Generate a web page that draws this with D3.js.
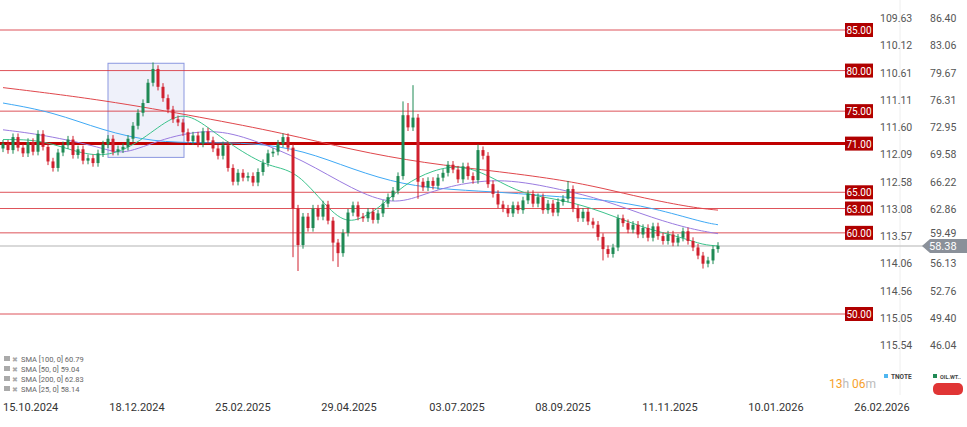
<!DOCTYPE html>
<html><head><meta charset="utf-8">
<script src="https://cdn.jsdelivr.net/npm/d3@7"></script>
<style>body{margin:0;background:#fff;font-family:Roboto,"Noto Sans",sans-serif}</style>
</head><body><div id="chart"></div>
<script>
// closes, one candle every slot (open = previous close)
const closes = [71.0,70.2,71.8,70.5,69.8,71.2,70.0,72.2,70.6,68.8,68.0,69.9,70.8,71.5,69.6,70.3,68.9,69.2,68.6,69.8,
70.9,71.6,70.0,70.3,70.6,71.6,73.2,74.8,76.0,78.5,80.2,78.0,76.6,75.2,74.0,73.6,72.4,71.3,72.0,71.0,
72.5,71.4,70.4,69.5,70.8,68.0,66.3,67.4,66.8,67.0,66.2,67.5,68.6,69.8,70.0,71.0,71.8,70.5,63.0,58.5,
62.0,60.6,63.0,62.0,63.5,61.5,58.8,57.5,60.0,62.5,63.4,62.0,61.8,62.6,61.6,62.4,63.6,64.4,65.2,67.0,
74.5,73.0,74.2,66.3,65.6,66.4,65.8,66.8,67.4,68.4,67.8,66.6,68.2,67.0,66.5,70.2,69.5,66.0,64.8,63.5,
63.0,62.4,63.4,62.8,64.0,64.8,63.6,64.4,62.8,63.6,62.5,63.8,64.2,65.4,63.0,61.8,62.6,61.4,61.0,59.5,
58.0,57.4,58.2,61.8,61.2,60.4,61.0,59.8,60.6,59.4,60.8,59.6,59.0,59.8,58.8,59.4,60.2,59.0,58.2,57.2,
56.2,56.6,58.0,58.4];
const firstOpen = 70.4;
// notable wicks [index, high, low]
const spikes = [[30,81.0,null],[29,null,76.5],[80,76.2,null],[81,76.0,null],[82,78.2,null],[59,null,55.3],
[58,null,57.0],[67,null,55.8],[66,null,56.5],[95,70.9,null],[120,null,56.6],[140,null,55.6],[113,66.4,null],[83,null,64.2]];
// SMA lines: [candle index, value]
const sma200 = [[0,77.9],[20,76.4],[40,74.2],[56,72.3],[70,70.2],[84,68.6],[100,67.5],[112,66.5],[120,65.5],[128,64.3],[138,63.1],[143,62.8]];
const sma100 = [[0,76.0],[10,74.9],[20,72.6],[30,71.2],[40,71.1],[50,71.1],[60,70.2],[70,67.8],[80,65.9],[90,65.3],[100,65.0],[112,64.4],[120,64.1],[130,63.1],[140,61.3],[143,61.0]];
const sma50 = [[0,72.7],[8,72.1],[20,70.5],[24,69.5],[32,71.7],[42,72.9],[50,71.5],[60,69.0],[70,65.3],[78,63.4],[84,64.7],[90,65.9],[100,66.8],[112,65.3],[120,64.1],[130,61.8],[138,60.4],[143,59.9]];
const sma25 = [[0,71.5],[8,71.5],[16,69.6],[22,69.5],[28,71.5],[34,74.5],[38,74.5],[44,71.5],[52,68.4],[56,68.0],[60,66.8],[66,62.2],[70,61.0],[76,63.4],[80,65.9],[86,67.8],[92,68.4],[98,66.8],[104,64.7],[112,64.1],[120,62.6],[128,60.6],[136,59.4],[140,58.5],[143,58.4]];
const levels = [85, 80, 75, 71, 65, 63, 60, 50];
const lastPrice = 58.38;
const oilTicks = ["86.40","83.06","79.67","76.31","72.95","69.58","66.22","62.86","59.49","56.13","52.76","49.40","46.04"];
const tnoteTicks = ["109.63","110.12","110.61","111.11","111.60","112.09","112.58","113.08","113.57","114.06","114.56","115.05","115.54"];
const dateLabels = ["15.10.2024","18.12.2024","25.02.2025","29.04.2025","03.07.2025","08.09.2025","11.11.2025","10.01.2026","26.02.2026"];
const dateIdx = [3.8,26.8,48,69.2,90.8,112,133.4,154.6,175.8];
const legend = ["SMA [100, 0] 60.79","SMA [50, 0] 59.04","SMA [200, 0] 62.83","SMA [25, 0] 58.14"];

const W = 967, H = 427;
const svg = d3.select("#chart").append("svg").attr("width", W).attr("height", H);
const x = d3.scaleLinear().domain([0, 143]).range([3, 718]);
const y = d3.scaleLinear().domain([50, 85]).range([314, 30]);

const candles = closes.map((c, i) => {
    const o = i === 0 ? firstOpen : closes[i - 1];
    let h = Math.max(o, c) + 0.45, l = Math.min(o, c) - 0.45;
    spikes.forEach(s => { if (s[0] === i) { if (s[1] != null) h = s[1]; if (s[2] != null) l = s[2]; } });
    return {i, o, c, h, l};
});

svg.append("line").attr("x1", 900).attr("x2", 900).attr("y1", 0).attr("y2", 395).attr("stroke", "#eee");

// highlight box
svg.append("rect").attr("x", x(21)).attr("y", y(80.9)).attr("width", x(36.2) - x(21)).attr("height", y(69.3) - y(80.9))
    .attr("fill", "#e8ebf8").attr("fill-opacity", 0.7).attr("stroke", "#8b97e0").attr("stroke-width", 1);

// level lines
levels.forEach(v => {
    svg.append("line").attr("x1", 0).attr("x2", 868).attr("y1", y(v)).attr("y2", y(v))
        .attr("stroke", v === 71 ? "#c00000" : "#d9363e").attr("stroke-width", v === 71 ? 3 : 1).attr("opacity", v === 71 ? 1 : 0.85);
    svg.append("rect").attr("x", 845).attr("y", y(v) - 7).attr("width", 28).attr("height", 14).attr("fill", "#b00000");
    svg.append("text").attr("x", 859).attr("y", y(v) + 4).attr("text-anchor", "middle").attr("fill", "#fff")
        .attr("font-size", 10).text(v.toFixed(2));
});
// current price line
svg.append("line").attr("x1", 0).attr("x2", 935).attr("y1", y(lastPrice)).attr("y2", y(lastPrice)).attr("stroke", "#ccc").attr("stroke-width", 1.5);
svg.append("path").attr("d", `M922,${y(lastPrice)} L930,${y(lastPrice) - 7} H967 V${y(lastPrice) + 7} H930 Z`).attr("fill", "#8a9099");
svg.append("text").attr("x", 929).attr("y", y(lastPrice) + 4).attr("fill", "#fff").attr("font-size", 11).text(lastPrice.toFixed(2));

// SMA lines
const line = d3.line().x(d => x(d[0])).y(d => y(d[1])).curve(d3.curveBasis);
[[sma200, "#e0474c"], [sma100, "#3fa9f5"], [sma50, "#9a7be0"], [sma25, "#3cc38c"]].forEach(([d, col]) => {
    svg.append("path").datum(d).attr("d", line).attr("fill", "none").attr("stroke", col).attr("stroke-width", 1);
});

// candles
const g = svg.append("g");
g.selectAll("line").data(candles).join("line")
    .attr("x1", d => x(d.i)).attr("x2", d => x(d.i)).attr("y1", d => y(d.h)).attr("y2", d => y(d.l))
    .attr("stroke", d => d.c >= d.o ? "#1f8a55" : "#d0202e").attr("stroke-width", 1);
g.selectAll("rect").data(candles).join("rect")
    .attr("x", d => x(d.i) - 1.5).attr("width", 3)
    .attr("y", d => y(Math.max(d.o, d.c))).attr("height", d => Math.max(1, Math.abs(y(d.o) - y(d.c))))
    .attr("fill", d => d.c >= d.o ? "#1f8a55" : "#d0202e");

// right axes
const tickY = d3.scaleLinear().domain([0, oilTicks.length - 1]).range([18, 345]);
oilTicks.forEach((t, k) => {
    if (k !== 8) svg.append("text").attr("x", 930).attr("y", tickY(k) + 4).attr("font-size", 10.5).attr("fill", "#555").text(t);
    svg.append("text").attr("x", 880).attr("y", tickY(k) + 4).attr("font-size", 10.5).attr("fill", "#555").text(tnoteTicks[k]);
});
// 59.49 sits just above the price tag
svg.append("text").attr("x", 930).attr("y", tickY(8) + 1).attr("font-size", 10.5).attr("fill", "#555").text(oilTicks[8]);

// x axis labels
dateLabels.forEach((t, k) => {
    svg.append("text").attr("x", k === 0 ? 3 : x(dateIdx[k])).attr("y", 411).attr("text-anchor", k === 0 ? "start" : "middle")
        .attr("font-size", 11).attr("fill", "#333").text(t);
});

// legend
legend.forEach((t, k) => {
    const ly = 362 + k * 10;
    svg.append("rect").attr("x", 4).attr("y", ly - 6).attr("width", 6).attr("height", 5).attr("fill", "#aaa");
    svg.append("text").attr("x", 12).attr("y", ly).attr("font-size", 7).attr("fill", "#aaa").text("✖");
    svg.append("text").attr("x", 21).attr("y", ly).attr("font-size", 7.5).attr("fill", "#666").text(t);
});

// bottom right widgets
const tt = svg.append("text").attr("x", 829).attr("y", 388).attr("font-size", 12);
tt.append("tspan").attr("fill", "#f7a12b").text("13");
tt.append("tspan").attr("fill", "#bbb").text("h ");
tt.append("tspan").attr("fill", "#f7a12b").text("06");
tt.append("tspan").attr("fill", "#bbb").text("m");
svg.append("rect").attr("x", 884).attr("y", 374).attr("width", 4).attr("height", 4).attr("fill", "#4fb6f0");
svg.append("text").attr("x", 891).attr("y", 379).attr("font-size", 6.5).attr("font-weight", "bold").attr("fill", "#444").text("TNOTE");
svg.append("rect").attr("x", 933).attr("y", 374).attr("width", 4).attr("height", 4).attr("fill", "#1f8a55");
svg.append("text").attr("x", 940).attr("y", 379).attr("font-size", 5.5).attr("font-weight", "bold").attr("fill", "#444").text("OIL.WT..");
svg.append("rect").attr("x", 933).attr("y", 383).attr("width", 30).attr("height", 12).attr("rx", 5).attr("fill", "#e03535");
</script></body></html>
